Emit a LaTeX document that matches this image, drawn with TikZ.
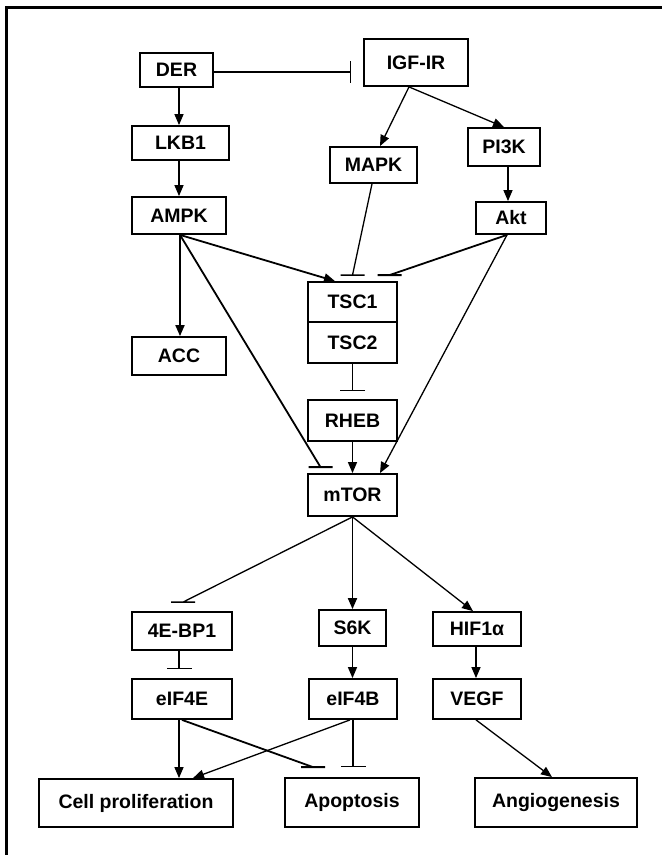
\documentclass[tikz,border=0pt]{standalone}
\usepackage{fontspec}
\setmainfont{Liberation Sans}
\usetikzlibrary{arrows.meta,calc}
\begin{document}
\begin{tikzpicture}[x=1pt,y=-1pt,
  box/.style={draw,line width=1.8pt,inner sep=0pt,font=\fontsize{19.5}{22}\selectfont\bfseries,align=center},
  arr/.style={-{Triangle[length=11pt,width=9pt]},line width=1.3pt},
  tarr/.style={arr,line width=1.8pt},
  bar/.style={-{Bar[width=25pt,line width=1.5pt]},line width=1.3pt},
  hb/.style={line width=1.3pt,to path={-- (\tikztotarget) ++(-12pt,0) -- ++(24pt,0) \tikztonodes}},
  thb/.style={hb,line width=1.8pt}]
\useasboundingbox (0,0) rectangle (662,855);
\fill[white] (0,0) rectangle (662,855);
% frame (top and left)
\draw[line width=2.2pt] (6.5,855) -- (6.5,7.5) -- (662,7.5);
% nodes
\node[box,minimum width=73pt,minimum height=34pt] (DER) at (176.5,70) {DER};
\node[box,minimum width=104pt,minimum height=47pt] (IGF) at (416,62.5) {IGF-IR};
\node[box,minimum width=97pt,minimum height=34pt] (LKB) at (180.5,143) {LKB1};
\node[box,minimum width=87pt,minimum height=36pt] (MAPK) at (373.5,165) {MAPK};
\node[box,minimum width=72pt,minimum height=38pt] (PI3K) at (504,147) {PI3K};
\node[box,minimum width=94pt,minimum height=37pt] (AMPK) at (179,215.5) {AMPK};
\node[box,minimum width=70pt,minimum height=32pt] (Akt) at (511,218) {Akt};
\node[box,minimum width=89pt,minimum height=40pt] (TSC1) at (352.5,302) {TSC1};
\node[box,minimum width=89pt,minimum height=41pt] (TSC2) at (352.5,342.5) {TSC2};
\node[box,minimum width=94pt,minimum height=38pt] (ACC) at (179,356) {ACC};
\node[box,minimum width=89pt,minimum height=41pt] (RHEB) at (352.5,420.5) {RHEB};
\node[box,minimum width=89pt,minimum height=42pt] (mTOR) at (352.5,495) {mTOR};
\node[box,minimum width=100pt,minimum height=38pt] (BP1) at (182,631) {4E-BP1};
\node[box,minimum width=67pt,minimum height=36pt] (S6K) at (352.5,628) {S6K};
\node[box,minimum width=88pt,minimum height=34pt] (HIF) at (477,629) {HIF1α};
\node[box,minimum width=100pt,minimum height=40pt] (E4E) at (182,699) {eIF4E};
\node[box,minimum width=88pt,minimum height=40pt] (E4B) at (353,699) {eIF4B};
\node[box,minimum width=88pt,minimum height=40pt] (VEGF) at (477,699) {VEGF};
\node[box,minimum width=194pt,minimum height=48pt] (Cell) at (136,803) {Cell proliferation};
\node[box,minimum width=134pt,minimum height=49pt] (Apop) at (352,802.5) {Apoptosis};
\node[box,minimum width=162pt,minimum height=49pt] (Angio) at (556,802.5) {Angiogenesis};
% connectors
\draw[-{Bar[width=22pt,line width=1.5pt]},line width=1.3pt,shorten >=12pt]
  ([yshift=-2pt]DER.east) -- ([yshift=-2pt]DER.east -| IGF.west);
\draw[arr] ([xshift=2.5pt]DER.south) -- ([xshift=2.5pt]DER.south |- LKB.north);
\draw[arr] ([xshift=-1.5pt]LKB.south) -- ([xshift=-1.5pt]LKB.south |- AMPK.north);
\draw[arr] ([xshift=-7pt]IGF.south) -- ([xshift=6.5pt]MAPK.north);
\draw[arr] ([xshift=-7pt]IGF.south) -- (PI3K.north);
\draw[arr] ([xshift=4pt]PI3K.south) -- ([xshift=4pt]PI3K.south |- Akt.north);
\draw[hb] ([xshift=-1.5pt]MAPK.south) to ([yshift=6pt]TSC1.north);
\draw[thb] ([xshift=-4pt]Akt.south) to ([xshift=37pt,yshift=6pt]TSC1.north);
\draw[tarr] ([xshift=1pt]AMPK.south) -- ([xshift=-17.5pt]TSC1.north);
\draw[tarr] ([xshift=1pt]AMPK.south) -- ([xshift=1pt]AMPK.south |- ACC.north);
\draw[thb] ([xshift=1pt]AMPK.south) to ([xshift=-32pt,yshift=6pt]mTOR.north);
\draw[arr] ([xshift=-4pt]Akt.south) -- ([xshift=27.5pt]mTOR.north);
\draw[bar,shorten >=8pt] (TSC2.south) -- (RHEB.north);
\draw[arr] (RHEB.south) -- (mTOR.north);
\draw[hb] (mTOR.south) to ([xshift=1pt,yshift=9pt]BP1.north);
\draw[tarr] (mTOR.south) -- (S6K.north);
\draw[arr] (mTOR.south) -- ([xshift=-4pt]HIF.north);
\draw[bar,shorten >=9pt] ([xshift=-3pt]BP1.south) -- ([xshift=-3pt]E4E.north);
\draw[arr] (S6K.south) -- (S6K.south |- E4B.north);
\draw[arr] ([xshift=-1pt]HIF.south) -- ([xshift=-1pt]VEGF.north);
\draw[arr] ([xshift=-3pt]E4E.south) -- ([xshift=-3pt]E4E.south |- Cell.north);
\draw[thb] (E4E.south) to ([xshift=-39pt,yshift=10pt]Apop.north);
\draw[arr] ([xshift=-3pt]E4B.south) -- ([xshift=57pt]Cell.north);
\draw[bar,shorten >=10pt] (E4B.south) -- (E4B.south |- Apop.north);
\draw[arr] ([xshift=-1pt]VEGF.south) -- ([xshift=-4pt]Angio.north);
\end{tikzpicture}
\end{document}
